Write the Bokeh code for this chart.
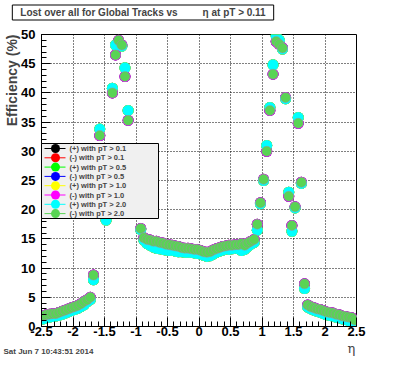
import numpy as np
from bokeh.plotting import figure
from bokeh.models import Range1d, FixedTicker, Label
from bokeh.embed import file_html
from bokeh.resources import INLINE

# ---------------- data ----------------
# histogram binning in eta: 100 bins from -2.5 to 2.5
n_bins = 100
eta_lo, eta_hi = -2.5, 2.5
bin_w = (eta_hi - eta_lo) / n_bins
eta = [round(eta_lo + bin_w * (i + 0.5), 3) for i in range(n_bins)]

# (+) with pT > 2.0  (cyan, visible)
pos_pt20 = [
    1.3, 1.5, 1.6, 1.7, 1.8, 1.9, 2.1, 2.3, 2.5, 2.7, 2.9, 3.1, 3.4, 3.7, 4.2, 4.6,
    8.0, 24.5, 33.8, 20.8, 18.2, 23.0, 40.8, 48.2, 48.5, 48.0, 44.3, 37.0, 29.5, 24.8, 20.8, 16.6,
    14.8, 14.2, 13.9, 13.6, 13.4, 13.3, 13.2, 13.1, 13.0, 13.1, 12.9, 12.8, 12.8, 12.7, 12.7, 12.7,
    12.6, 12.5, 12.4, 12.2, 12.0, 12.1, 12.4, 12.7, 12.9, 13.1, 13.3, 13.2, 13.3, 13.5, 13.3, 13.0,
    13.2, 13.7, 14.1, 14.4,
    16.5, 21.0, 25.0, 31.0, 37.5, 44.8, 49.8, 49.0, 47.5, 39.0, 23.0, 16.3, 20.3, 35.8, 24.5, 6.5,
    3.3, 3.0, 2.8, 2.6, 2.4, 2.2, 2.0, 1.9, 1.8, 1.6, 1.5, 1.3, 1.2, 1.0, 0.9, 0.6,
]
# (-) with pT > 2.0  (light green, visible, drawn last)
neg_pt20 = [
    1.8, 2.0, 2.1, 2.2, 2.2, 2.4, 2.6, 2.8, 3.0, 3.2, 3.4, 3.6, 3.9, 4.3, 4.6, 5.0,
    8.8, 25.0, 32.7, 21.0, 20.5, 22.5, 40.0, 46.5, 49.0, 48.2, 42.8, 35.3, 29.0, 25.0, 21.0, 16.8,
    15.2, 14.9, 14.8, 14.6, 14.6, 14.4, 14.3, 14.1, 14.0, 13.9, 13.8, 13.7, 13.5, 13.4, 13.4, 13.3,
    13.2, 13.2, 13.0, 12.8, 12.7, 12.8, 13.1, 13.3, 13.5, 13.7, 13.8, 13.9, 13.9, 14.0, 14.0, 14.2,
    13.9, 14.3, 14.6, 14.9,
    17.5, 21.2, 25.2, 30.0, 37.0, 43.2, 48.8, 48.3, 47.7, 39.2, 22.3, 17.3, 20.5, 34.8, 24.7, 7.3,
    3.7, 3.4, 3.2, 3.0, 2.9, 2.7, 2.5, 2.4, 2.3, 2.1, 2.0, 1.8, 1.7, 1.6, 1.5, 1.1,
]
# lower-pT series are entirely hidden under the pT > 2.0 markers in the picture
pos_pt01 = pos_pt20
neg_pt01 = neg_pt20
pos_pt05 = pos_pt20
neg_pt05 = neg_pt20
pos_pt10 = pos_pt20
neg_pt10 = neg_pt20

series_labels = [
    "(+) with pT > 0.1", "(-) with pT > 0.1",
    "(+) with pT > 0.5", "(-) with pT > 0.5",
    "(+) with pT > 1.0", "(-) with pT > 1.0",
    "(+) with pT > 2.0", "(-) with pT > 2.0",
]
series_values = [pos_pt01, neg_pt01, pos_pt05, neg_pt05, pos_pt10, neg_pt10, pos_pt20, neg_pt20]
series_colors = ["#000000", "#ff0000", "#00ff00", "#0000ff",
                 "#ffff00", "#ff00ff", "#00ffff", "#59d454"]

x_ticks = [-2.5, -2.0, -1.5, -1.0, -0.5, 0.0, 0.5, 1.0, 1.5, 2.0, 2.5]
x_tick_labels = ["-2.5", "-2", "-1.5", "-1", "-0.5", "0", "0.5", "1", "1.5", "2", "2.5"]
y_ticks = [0, 5, 10, 15, 20, 25, 30, 35, 40, 45, 50]
y_tick_labels = ["0", "5", "10", "15", "20", "25", "30", "35", "40", "45", "50"]

title_text = "Lost over all for Global Tracks vs" + "\u00a0" * 9 + "\u03b7 at pT > 0.11"
y_title = "Efficiency (%)"
x_title = "\u03b7"
date_text = "Sat Jun  7 10:43:51 2014"

# ---------------- layout ----------------
W, H = 380, 356
BL, BR, BT, BB = 41, 24, 34, 30
FRAME_W, FRAME_H = W - BL - BR, H - BT - BB
X0, X1, Y0, Y1 = -2.5, 2.5, 0.0, 50.0


def sx(px):
    return X0 + px * (X1 - X0) / FRAME_W


def sy(py):
    return Y0 + py * (Y1 - Y0) / FRAME_H


FONT = "Liberation Sans"

p = figure(width=W, height=H, output_backend="svg", toolbar_location=None,
           x_range=Range1d(X0, X1), y_range=Range1d(Y0, Y1),
           min_border_left=BL, min_border_right=BR, min_border_top=BT, min_border_bottom=BB)
p.background_fill_color = "white"
p.border_fill_color = "white"
p.outline_line_color = "black"
p.outline_line_width = 1
p.outline_line_alpha = 1.0

p.xaxis.ticker = FixedTicker(ticks=x_ticks,
                             minor_ticks=[round(-2.5 + 0.1 * i, 2) for i in range(51)])
p.xaxis.major_label_overrides = dict(zip(x_ticks, x_tick_labels))
p.yaxis.ticker = FixedTicker(ticks=y_ticks, minor_ticks=list(range(0, 51)))
p.yaxis.major_label_overrides = dict(zip(y_ticks, y_tick_labels))

for ax in (p.xaxis[0], p.yaxis[0]):
    ax.axis_line_color = "black"
    ax.major_tick_line_color = "black"
    ax.minor_tick_line_color = "black"
    ax.major_tick_in = 9
    ax.major_tick_out = 0
    ax.minor_tick_in = 5
    ax.minor_tick_out = 0
    ax.major_label_text_font = FONT
    ax.major_label_text_font_style = "bold"
    ax.major_label_text_font_size = "13px"
    ax.major_label_text_color = "black"
p.xaxis.major_label_standoff = 0
p.yaxis.major_label_standoff = 6

p.grid.grid_line_color = "black"
p.grid.grid_line_dash = "1 2"
p.grid.grid_line_width = 1
p.grid.grid_line_alpha = 1.0

# data markers
for vals, col in zip(series_values, series_colors):
    if col == "#59d454":
        p.scatter(x=eta, y=vals, marker="circle", size=10, fill_color=col,
                  line_color="#a08ca8", line_width=1, line_alpha=0.5)
    else:
        p.scatter(x=eta, y=vals, marker="circle", size=11, fill_color=col, line_color=None)

# legend (drawn manually, ROOT style)
LEG_L, LEG_R, LEG_B, LEG_T = 0, 117, 108, 183
p.quad(left=[sx(LEG_L)], right=[sx(LEG_R)], bottom=[sy(LEG_B)], top=[sy(LEG_T)],
       fill_color="#f0f0f0", line_color="black", line_width=1, level="annotation")
row_y = [178 - 9.3 * i for i in range(len(series_labels))]
p.segment(x0=[sx(3)] * len(row_y), x1=[sx(24)] * len(row_y),
          y0=[sy(r) for r in row_y], y1=[sy(r) for r in row_y],
          line_color=series_colors, line_width=1, level="overlay")
p.scatter(x=[sx(14)] * len(row_y), y=[sy(r) for r in row_y], marker="circle", size=9,
          fill_color=series_colors, line_color=None, level="overlay")
for lab, r in zip(series_labels, row_y):
    p.add_layout(Label(x=28, y=r, x_units="screen", y_units="screen", text=lab,
                       text_font=FONT, text_font_style="bold", text_font_size="7.5px",
                       text_baseline="middle", text_align="left", level="overlay"))

# texts outside the frame: placed in side panels (not clipped to the frame)
p.add_layout(Label(x=101.5, y=22, x_units="screen", y_units="screen", text=title_text,
                   text_font=FONT, text_font_style="bold", text_font_size="10px",
                   text_align="center", text_baseline="middle",
                   background_fill_color="white", border_line_color="black",
                   padding=dict(left=8, right=8, top=2, bottom=2)), "above")
p.add_layout(Label(x=-38, y=-332, x_units="screen", y_units="screen", text=date_text,
                   text_font=FONT, text_font_style="bold", text_font_size="8px",
                   text_align="left", text_baseline="middle"), "above")
p.add_layout(Label(x=-5, y=-22, x_units="screen", y_units="screen", text=x_title,
                   text_font="DejaVu Serif", text_font_size="13px",
                   text_align="center", text_baseline="middle"), "right")
p.add_layout(Label(x=9, y=FRAME_H, x_units="screen", y_units="screen", text=y_title,
                   angle=np.pi / 2, text_font=FONT, text_font_style="bold",
                   text_font_size="14px", text_align="right", text_baseline="middle"), "left")

open("out.html", "w").write(file_html(p, INLINE))
